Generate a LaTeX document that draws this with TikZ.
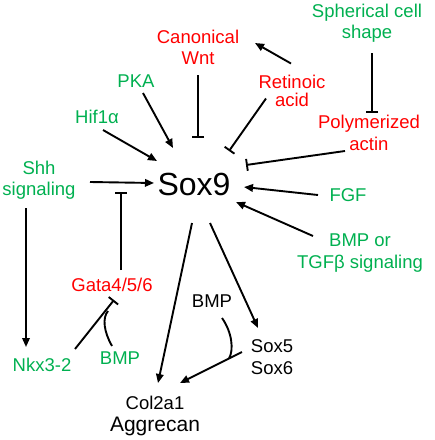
\documentclass[tikz,border=0pt]{standalone}
\usepackage{fontspec}
\setmainfont{Liberation Sans}
\usetikzlibrary{arrows.meta,calc}
\definecolor{rd}{RGB}{255,0,0}
\definecolor{gn}{RGB}{0,176,80}
\begin{document}
\begin{tikzpicture}[x=1pt,y=-1pt,
  lbl/.style={inner sep=0pt,align=center,font=\fontsize{18.5}{21.5}\selectfont},
  red/.style={lbl,text=rd},
  grn/.style={lbl,text=gn},
  blk/.style={lbl,text=black},
  arr/.style={line width=1.9pt,-{Triangle[length=9pt,width=7.5pt]}},
  inh/.style={line width=1.9pt,-{Bar[width=12pt,line width=1.9pt]}},
  plain/.style={line width=1.9pt}]
\useasboundingbox (0,0) rectangle (435,440);
% nodes
\node[lbl,font=\fontsize{32}{36}\selectfont] (sox9) at (194,184) {Sox9};
\node[red] (canon) at (198,47.5) {Canonical\\Wnt};
\node[grn] (sph) at (367,23) {Spherical cell\\shape};
\node[red,font=\fontsize{18.5}{18}\selectfont] (ret) at (292,90.5) {Retinoic\\acid};
\node[red] (poly) at (369,133) {Polymerized\\actin};
\node[grn] (fgf) at (348,195) {FGF};
\node[grn] (bmptgf) at (360,253) {BMP or\\TGFβ signaling};
\node[grn] (pka) at (136,81) {PKA};
\node[grn] (hif) at (97,117) {Hif1α};
\node[grn] (shh) at (39,180) {Shh\\signaling};
\node[red] (gata) at (112,285) {Gata4/5/6};
\node[grn] (nkx) at (42,365) {Nkx3-2};
\node[grn] (bmpg) at (120,358) {BMP};
\node[blk] (bmpb) at (212,301) {BMP};
\node[blk] (sox56) at (272,357) {Sox5\\Sox6};
\node[blk] (col) at (155,416) {Col2a1\\[1pt]{\fontsize{21}{24}\selectfont Aggrecan}};
% connectors
\draw[inh] ($(canon)+(0,27.5)$) -- ($(sox9)+(4,-46)$);
\draw[arr] ($(pka)+(7,12)$) -- ($(sox9)+(-21,-36)$);
\draw[arr] ($(hif)+(6,13)$) -- ($(sox9)+(-37,-23)$);
\draw[arr] ($(shh)+(51,2)$) -- ($(sox9)+(-40,-1)$);
\draw[arr] ($(ret)+(-1,-27)$) -- ($(canon)+(57,-4.5)$);
\draw[inh] ($(ret)+(-26,8)$) -- ($(sox9)+(35,-33)$);
\draw[inh] ($(sph)+(5,30)$) -- ($(poly)+(3,-20)$);
\draw[inh] ($(poly)+(-24,18)$) -- ($(sox9)+(52,-19)$);
\draw[arr] ($(fgf)+(-30,0)$) -- ($(sox9)+(50,3)$);
\draw[arr] ($(bmptgf)+(-47,-17)$) -- ($(sox9)+(42,18)$);
\draw[arr] ($(shh)+(-13,28)$) -- ($(nkx)+(-16,-18)$);
\draw[inh] ($(gata)+(9,-15)$) -- ($(sox9)+(-73,8)$);
\draw[inh] ($(nkx)+(33,-16)$) -- ($(gata)+(2,15)$);
\draw[plain] ($(bmpg)+(-8,-12)$) .. controls ($(bmpg)+(-16,-26)$) and ($(bmpg)+(-18,-40)$) .. ($(gata)+(-4,26)$);
\draw[arr] ($(sox9)+(-2,39)$) -- ($(col)+(3,-33)$);
\draw[arr] ($(sox9)+(16,39)$) -- ($(sox56)+(-14,-29)$);
\draw[arr] ($(sox56)+(-30,-5)$) -- ($(col)+(25,-33)$);
\draw[plain] ($(bmpb)+(10,17)$) .. controls ($(bmpb)+(20,31)$) and ($(bmpb)+(22,49)$) .. ($(sox56)+(-43,1.5)$);
\end{tikzpicture}
\end{document}
